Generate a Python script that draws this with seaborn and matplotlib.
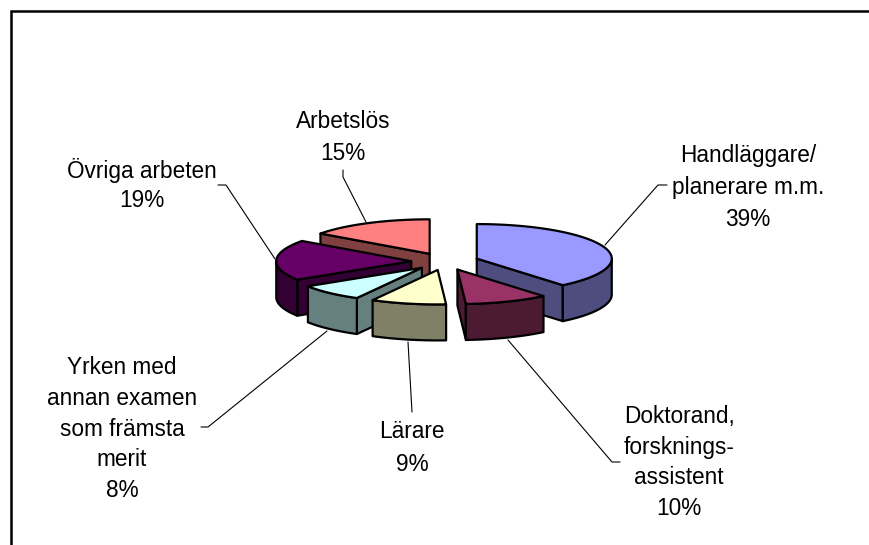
import numpy as np
import matplotlib
matplotlib.use("Agg")
import matplotlib.pyplot as plt
import seaborn as sns

# --------------------------
# Datos
# --------------------------
categorias = [
    "Handläggare/\nplanerare m.m.",
    "Doktorand,\nforsknings-\nassistent",
    "Lärare",
    "Yrken med\nannan examen\nsom främsta\nmerit",
    "Övriga arbeten",
    "Arbetslös",
]
procent = [39, 10, 9, 8, 19, 15]
farger = ["#9999FF", "#993366", "#FFFFCC", "#CCFFFF", "#660066", "#FF8080"]

# --------------------------
# Layout (pixels)
# --------------------------
CX, CY = 445, 261.5
RX, RY = 135, 34.5
DJUP = 36
EXPLODE = 0.25
KANT = 1.6

# centre x and y of the first text line, line step
text_pos = [(748, 153, 32), (679, 414, 30.7), (412, 429, 33),
            (122, 365, 30.8), (142, 168, 30), (343, 119, 32)]
ledare = [
    [(667, 185), (658, 185), (605, 245)],
    [(620, 462), (612, 462), (508, 340)],
    [(412, 412), (408, 342)],
    [(201, 427), (208, 427), (327, 331)],
    [(218, 185), (226, 185), (275, 259)],
    [(343, 170), (343, 177), (366, 222)],
]

sns.set_theme(style="white")
plt.rcParams["font.family"] = ["Liberation Sans", "DejaVu Sans"]
palett = sns.color_palette(farger)

fig = plt.figure(figsize=(8.69, 5.45), dpi=100)
ax = fig.add_axes([0, 0, 1, 1])
ax.set_xlim(0, 869)
ax.set_ylim(545, 0)
ax.axis("off")

# frame, right and bottom edges fall outside the picture
ax.plot([11, 11, 869], [545, 11, 11], color="black", lw=1.8, solid_joinstyle="miter", zorder=1)


def rand(ax0, ay0, vinklar):
    return ax0 + RX * np.sin(vinklar), ay0 - RY * np.cos(vinklar)


def vagg(x, y, farg, z):
    px = np.concatenate([x, x[::-1]])
    py = np.concatenate([y, y[::-1] + DJUP])
    ax.fill(px, py, facecolor=farg, edgecolor="black", lw=KANT, joinstyle="round", zorder=z)


# --------------------------
# Slices, back to front
# --------------------------
kanter = np.radians(np.cumsum([0] + procent) * 3.6)
mitt = (kanter[:-1] + kanter[1:]) / 2
ordning = np.argsort(-np.cos(mitt))

for z, i in enumerate(ordning):
    t1, t2 = kanter[i], kanter[i + 1]
    ax0 = CX + EXPLODE * RX * np.sin(mitt[i])
    ay0 = CY - EXPLODE * RY * np.cos(mitt[i])
    topp = palett[i]
    sida = tuple(c * 0.5 for c in topp)
    zb = 2 + z

    # cut faces that look towards the viewer
    if np.sin(t1) < -1e-6:
        rx, ry = rand(ax0, ay0, t1)
        vagg(np.array([ax0, rx]), np.array([ay0, ry]), sida, zb)
    if np.sin(t2) > 1e-6:
        rx, ry = rand(ax0, ay0, t2)
        vagg(np.array([rx, ax0]), np.array([ry, ay0]), sida, zb)

    # outer wall, front half of the ellipse only
    lo, hi = max(t1, np.pi / 2), min(t2, 3 * np.pi / 2)
    if hi > lo:
        rx, ry = rand(ax0, ay0, np.linspace(lo, hi, 60))
        vagg(rx, ry, sida, zb)

    # top
    rx, ry = rand(ax0, ay0, np.linspace(t1, t2, 120))
    ax.fill(np.r_[ax0, rx], np.r_[ay0, ry], facecolor=topp, edgecolor="black",
            lw=KANT, joinstyle="round", zorder=zb)

# --------------------------
# Labels and leader lines
# --------------------------
for namn, p, (tx, ty, steg), led in zip(categorias, procent, text_pos, ledare):
    rader = namn.split("\n") + [f"{p}%"]
    for k, rad in enumerate(rader):
        ax.text(tx, ty + k * steg, rad, ha="center", va="center_baseline",
                fontsize=16.3, color="black", zorder=30)
    lx, ly = zip(*led)
    ax.plot(lx, ly, color="black", lw=0.8, zorder=1)

fig.savefig("out.png", dpi=100, facecolor="white")
